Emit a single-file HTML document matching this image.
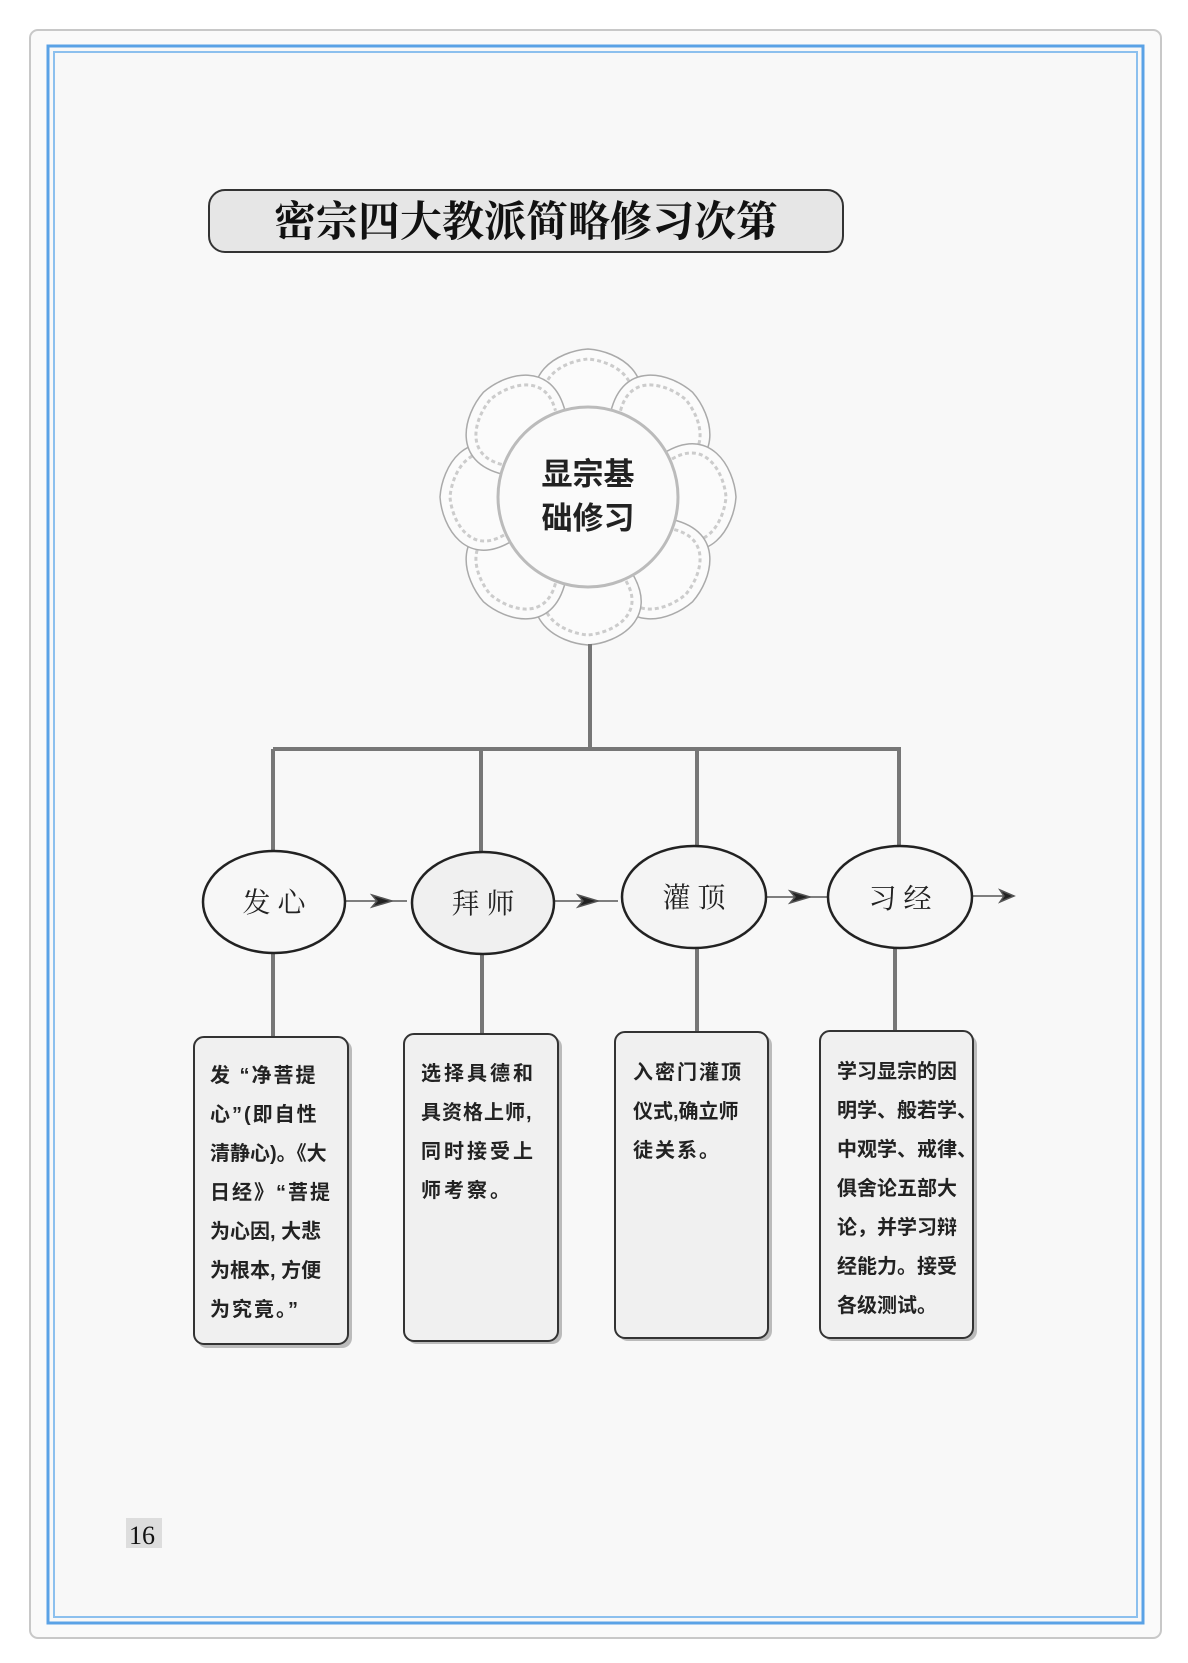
<!DOCTYPE html>
<html><head><meta charset="utf-8"><style>
html,body{margin:0;padding:0;background:#fff;}
svg{display:block;}
</style></head><body>
<svg width="1188" height="1663" viewBox="0 0 1188 1663" xmlns="http://www.w3.org/2000/svg">
<defs>
<g id="petal"><path d="M -44,-76 C -72,-122 -30,-146 0,-148 C 30,-146 72,-122 44,-76" fill="#fbfbfb" stroke="#aaa" stroke-width="1.5"/>
<path d="M -38,-84 C -58,-118 -24,-136 0,-138 C 24,-136 58,-118 38,-84" fill="none" stroke="#ccc" stroke-width="3" stroke-dasharray="4 3"/></g>
</defs>
<rect x="0" y="0" width="1188" height="1663" fill="#fff"/>
<rect x="30" y="30" width="1131" height="1608" rx="8" fill="#fafafa" stroke="#c8c8c8" stroke-width="2"/>
<rect x="48" y="46" width="1095" height="1577" fill="#f8f8f8" stroke="#5aa2e6" stroke-width="3"/>
<rect x="54" y="52" width="1083" height="1565" fill="none" stroke="#8cc0ee" stroke-width="2"/>
<rect x="209" y="190" width="634" height="62" rx="16" fill="#e6e6e6" stroke="#333" stroke-width="2"/>
<text x="526" y="236" text-anchor="middle" font-family="'Liberation Serif','Noto Serif CJK SC',serif" font-weight="bold" font-size="42" fill="#111">密宗四大教派简略修习次第</text>
<g transform="translate(588,497)">
<use href="#petal" transform="rotate(0)"/><use href="#petal" transform="rotate(45)"/>
<use href="#petal" transform="rotate(90)"/><use href="#petal" transform="rotate(135)"/>
<use href="#petal" transform="rotate(180)"/><use href="#petal" transform="rotate(225)"/>
<use href="#petal" transform="rotate(270)"/><use href="#petal" transform="rotate(315)"/>
<circle r="90" fill="#fafafa" stroke="#bbb" stroke-width="3"/>
<text x="0" y="-12" text-anchor="middle" font-family="'Liberation Sans','Noto Sans CJK SC',sans-serif" font-weight="bold" font-size="31" fill="#222">显宗基</text>
<text x="0" y="32" text-anchor="middle" font-family="'Liberation Sans','Noto Sans CJK SC',sans-serif" font-weight="bold" font-size="31" fill="#222">础修习</text>
</g>
<g stroke="#777" stroke-width="4" fill="none">
<line x1="590" y1="644" x2="590" y2="749"/>
<line x1="273" y1="749" x2="901" y2="749"/>
<line x1="273" y1="749" x2="273" y2="851"/>
<line x1="481" y1="749" x2="481" y2="851"/>
<line x1="697" y1="749" x2="697" y2="847"/>
<line x1="899" y1="749" x2="899" y2="847"/>
<line x1="273" y1="953" x2="273" y2="1038"/>
<line x1="482" y1="953" x2="482" y2="1036"/>
<line x1="697" y1="949" x2="697" y2="1034"/>
<line x1="895" y1="949" x2="895" y2="1032"/>
</g>
<g stroke="#555" stroke-width="1.5" fill="#222">
<line x1="345" y1="901" x2="407" y2="901"/><path d="M372,895 L392,901 L372,907 L377,901 Z"/>
<line x1="554" y1="901" x2="618" y2="901"/><path d="M578,895 L598,901 L578,907 L583,901 Z"/>
<line x1="765" y1="897" x2="828" y2="897"/><path d="M790,891 L810,897 L790,903 L795,897 Z"/>
<line x1="972" y1="896" x2="1014" y2="896"/><path d="M1000,890 L1014,896 L1000,902 L1004,896 Z"/>
</g>
<g stroke="#222" stroke-width="2.5">
<ellipse cx="274" cy="902" rx="71" ry="51" fill="#f7f7f7"/>
<ellipse cx="483" cy="903" rx="71" ry="51" fill="#f0f0f0"/>
<ellipse cx="694" cy="897" rx="72" ry="51" fill="#f4f4f4"/>
<ellipse cx="900" cy="897" rx="72" ry="51" fill="#f6f6f6"/>
</g>
<g font-family="'Liberation Serif','Noto Serif CJK SC',serif" font-size="28" text-anchor="middle" fill="#222">
<text x="274" y="912">发 心</text>
<text x="483" y="913">拜 师</text>
<text x="694" y="907">灌 顶</text>
<text x="900" y="908">习 经</text>
</g>
<g fill="#f0f0f0" stroke="#333" stroke-width="2">
<rect x="197" y="1040" width="155" height="308" rx="10" fill="#bbb" stroke="none"/>
<rect x="194" y="1037" width="154" height="307" rx="10"/>
<rect x="407" y="1037" width="155" height="307" rx="10" fill="#bbb" stroke="none"/>
<rect x="404" y="1034" width="154" height="307" rx="10"/>
<rect x="618" y="1035" width="154" height="306" rx="10" fill="#bbb" stroke="none"/>
<rect x="615" y="1032" width="153" height="306" rx="10"/>
<rect x="823" y="1035" width="154" height="306" rx="10" fill="#bbb" stroke="none"/>
<rect x="820" y="1031" width="153" height="307" rx="10"/>
</g>
<g font-family="'Liberation Sans','Noto Sans CJK SC',sans-serif" font-size="20" font-weight="bold" fill="#222">
<g letter-spacing="2">
<text x="210" y="1082">发 “净菩提</text>
<text x="210" y="1121">心”(即自性</text>
<text x="210" y="1160" letter-spacing="0">清静心)。《大</text>
<text x="210" y="1199">日经》“菩提</text>
<text x="210" y="1238" letter-spacing="0">为心因, 大悲</text>
<text x="210" y="1277" letter-spacing="0">为根本, 方便</text>
<text x="210" y="1316">为究竟。”</text>
</g>
<g letter-spacing="3">
<text x="421" y="1080">选择具德和</text>
<text x="421" y="1119" letter-spacing="1">具资格上师,</text>
<text x="421" y="1158">同时接受上</text>
<text x="421" y="1197">师考察。</text>
</g>
<g letter-spacing="2">
<text x="633" y="1079">入密门灌顶</text>
<text x="633" y="1118" letter-spacing="0">仪式,确立师</text>
<text x="633" y="1157">徒关系。</text>
</g>
<text x="837" y="1078">学习显宗的因</text>
<text x="837" y="1117">明学、般若学、</text>
<text x="837" y="1156">中观学、戒律、</text>
<text x="837" y="1195">俱舍论五部大</text>
<text x="837" y="1234">论，并学习辩</text>
<text x="837" y="1273">经能力。接受</text>
<text x="837" y="1312">各级测试。</text>
</g>
<rect x="126" y="1518" width="36" height="30" fill="#ddd"/>
<text x="129" y="1544" font-family="'Liberation Serif',serif" font-size="26" fill="#111">16</text>
</svg>
</body></html>
